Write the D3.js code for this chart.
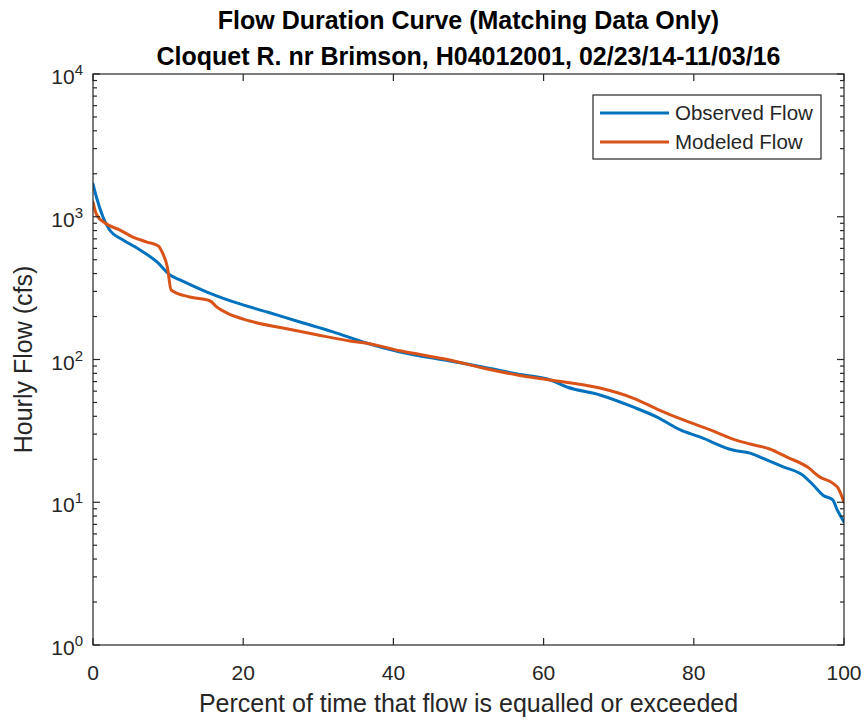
<!DOCTYPE html>
<html>
<head>
<meta charset="utf-8">
<script src="https://cdn.jsdelivr.net/npm/d3@7/dist/d3.min.js"></script>
<style>
  html, body { margin: 0; padding: 0; background: #fff; }
  svg { display: block; }
  text { font-family: "Liberation Sans", Arial, Helvetica, sans-serif; fill: #262626; }
</style>
</head>
<body>
<svg id="chart" width="866" height="723"></svg>
<script>
// ---- Data ----
const titleLines = ["Flow Duration Curve (Matching Data Only)", "Cloquet R. nr Brimson, H04012001, 02/23/14-11/03/16"];
const xLabel = "Percent of time that flow is equalled or exceeded";
const yLabel = "Hourly Flow (cfs)";
const seriesNames = ["Observed Flow", "Modeled Flow"];
const seriesColors = ["#0072BD", "#D95319"];
const xTicks = [0, 20, 40, 60, 80, 100];
const yExponents = [0, 1, 2, 3, 4];

const observedPct = [0, 0.49, 1.33, 2.13, 4.0, 5.86, 8.52, 10.25, 11.58, 15.18, 19.57, 23.2, 27.56, 31.96, 36.5, 40.9, 47.5, 51.9, 56.5, 60.9, 63.1, 67.5, 71.9, 75.1, 78.2, 80.8, 85.2, 87.5, 89.7, 91.9, 94.5, 95.9, 97.2, 98.5, 99.1, 100];
const observedFlow = [1695, 1353, 996, 821, 687, 604, 482, 391, 361, 297, 245, 215, 183, 156, 130, 113, 97.7, 88.6, 79.1, 71.8, 64.2, 56.4, 46.5, 39.5, 32.1, 28.7, 23.2, 22.1, 19.8, 17.7, 15.5, 13.2, 11.2, 10.4, 8.83, 7.27];

const modeledPct = [0, 0.5, 1.6, 3.6, 5.3, 7.2, 8.7, 9.2, 9.9, 10.4, 12.9, 15.6, 16.5, 17.8, 20.9, 25.3, 29.8, 34.2, 36.5, 40.9, 47.5, 51.9, 56.5, 60.9, 67.5, 71.9, 75.1, 78.6, 82.2, 85.2, 87.5, 90.1, 92.4, 95.1, 96.8, 98.5, 99.2, 100];
const modeledFlow = [1269, 1028, 904, 807, 721, 665, 624, 566, 445, 307, 274, 257, 233, 212, 186, 166, 149, 135, 130, 115, 99.2, 87.2, 77.9, 71.8, 63.1, 53.7, 45.0, 37.7, 32.1, 27.7, 25.6, 23.6, 20.7, 17.7, 15.0, 13.6, 12.6, 10.0];

// ---- Layout ----
const svg = d3.select("#chart");
const plot = { left: 93, right: 844, top: 74, bottom: 645 };
const axisColor = "#262626";

const x = d3.scaleLinear().domain([0, 100]).range([plot.left, plot.right]);
const y = d3.scaleLog().domain([1, 10000]).range([plot.bottom, plot.top]);

// Title
svg.selectAll("text.title").data(titleLines).enter().append("text")
  .attr("class", "title")
  .attr("x", (plot.left + plot.right) / 2)
  .attr("y", (d, i) => 29 + i * 36)
  .attr("text-anchor", "middle")
  .style("font-size", "25px")
  .style("font-weight", "bold")
  .style("fill", "#000")
  .text(d => d);

// Series lines
const series = [
  { pct: observedPct, flow: observedFlow },
  { pct: modeledPct, flow: modeledFlow }
];
const line = d3.line().x(d => x(d[0])).y(d => y(d[1])).curve(d3.curveMonotoneX);
const clip = svg.append("clipPath").attr("id", "clip").append("rect")
  .attr("x", plot.left).attr("y", plot.top)
  .attr("width", plot.right - plot.left).attr("height", plot.bottom - plot.top);

const g = svg.append("g").attr("clip-path", "url(#clip)");
series.forEach((s, i) => {
  g.append("path")
    .datum(d3.zip(s.pct, s.flow))
    .attr("d", line)
    .attr("fill", "none")
    .attr("stroke", seriesColors[i])
    .attr("stroke-width", 3)
    .attr("stroke-linejoin", "round")
    .attr("stroke-linecap", "round");
});

// Axes box
svg.append("rect")
  .attr("x", plot.left).attr("y", plot.top)
  .attr("width", plot.right - plot.left).attr("height", plot.bottom - plot.top)
  .attr("fill", "none").attr("stroke", axisColor).attr("stroke-width", 1.2);

// X ticks (inside, top and bottom)
const majLen = 7, minLen = 4;
xTicks.forEach(t => {
  const px = x(t);
  svg.append("line").attr("x1", px).attr("x2", px).attr("y1", plot.bottom).attr("y2", plot.bottom - majLen)
    .attr("stroke", axisColor).attr("stroke-width", 1.2);
  svg.append("line").attr("x1", px).attr("x2", px).attr("y1", plot.top).attr("y2", plot.top + majLen)
    .attr("stroke", axisColor).attr("stroke-width", 1.2);
  svg.append("text").attr("x", px).attr("y", 680).attr("text-anchor", "middle")
    .style("font-size", "21px").text(t);
});

// Y ticks (log: majors + minors on both sides)
yExponents.forEach(e => {
  const v = Math.pow(10, e);
  const py = y(v);
  [[plot.left, 1], [plot.right, -1]].forEach(([bx, dir]) => {
    svg.append("line").attr("x1", bx).attr("x2", bx + dir * majLen).attr("y1", py).attr("y2", py)
      .attr("stroke", axisColor).attr("stroke-width", 1.2);
  });
  const lbl = svg.append("text").attr("x", 83).attr("y", py + 10).attr("text-anchor", "end")
    .style("font-size", "21px");
  lbl.append("tspan").text("10");
  lbl.append("tspan").attr("dy", -9).style("font-size", "15px").text(e);
  if (e < 4) {
    for (let m = 2; m <= 9; m++) {
      const pm = y(m * v);
      [[plot.left, 1], [plot.right, -1]].forEach(([bx, dir]) => {
        svg.append("line").attr("x1", bx).attr("x2", bx + dir * minLen).attr("y1", pm).attr("y2", pm)
          .attr("stroke", axisColor).attr("stroke-width", 1.2);
      });
    }
  }
});

// Axis labels
svg.append("text").attr("x", (plot.left + plot.right) / 2).attr("y", 712)
  .attr("text-anchor", "middle").style("font-size", "25px").text(xLabel);
svg.append("text")
  .attr("transform", `translate(32, ${(plot.top + plot.bottom) / 2}) rotate(-90)`)
  .attr("text-anchor", "middle").style("font-size", "25px").text(yLabel);

// Legend
const leg = svg.append("g");
leg.append("rect").attr("x", 593).attr("y", 95).attr("width", 228).attr("height", 64)
  .attr("fill", "#fff").attr("stroke", axisColor).attr("stroke-width", 1.2);
seriesNames.forEach((n, i) => {
  const ly = 113 + i * 29;
  leg.append("line").attr("x1", 600).attr("x2", 669).attr("y1", ly).attr("y2", ly)
    .attr("stroke", seriesColors[i]).attr("stroke-width", 3);
  leg.append("text").attr("x", 675).attr("y", ly + 7).style("font-size", "20.5px").text(n);
});
</script>
</body>
</html>
